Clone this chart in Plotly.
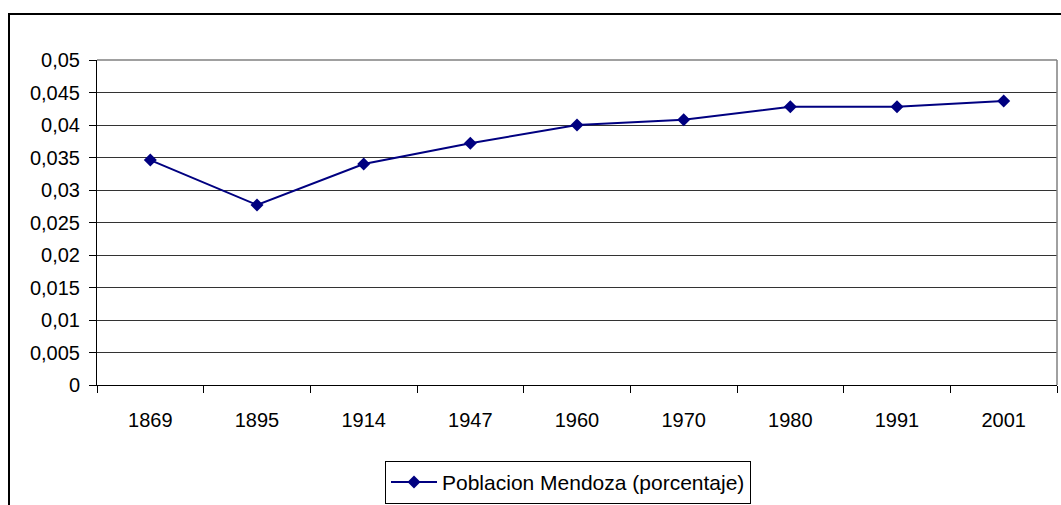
import plotly.graph_objects as go

years = ["1869", "1895", "1914", "1947", "1960", "1970", "1980", "1991", "2001"]
values = [0.0346, 0.0277, 0.0340, 0.0372, 0.0400, 0.0408, 0.0428, 0.0428, 0.0437]
y_ticks = [0, 0.005, 0.01, 0.015, 0.02, 0.025, 0.03, 0.035, 0.04, 0.045, 0.05]
y_tick_labels = ["0", "0,005", "0,01", "0,015", "0,02", "0,025", "0,03", "0,035", "0,04", "0,045", "0,05"]
series_name = "Poblacion Mendoza (porcentaje)"

FONT = "Liberation Sans, Arial, sans-serif"

fig = go.Figure()
fig.add_trace(go.Scatter(
    x=years, y=values, mode="lines+markers", name=series_name,
    line=dict(color="#000080", width=2),
    marker=dict(symbol="diamond", size=10, color="#000080"),
    showlegend=True,
))

fig.update_layout(
    width=1061, height=505,
    margin=dict(l=97, r=4, t=60, b=120, autoexpand=False),
    paper_bgcolor="white", plot_bgcolor="white",
    font=dict(family=FONT, size=20, color="black"),
    showlegend=True,
    legend=dict(
        x=0.3, y=-0.233, xanchor="left", yanchor="top",
        bordercolor="black", borderwidth=1, bgcolor="white",
        font=dict(family=FONT, size=21, color="black"),
        itemwidth=46,
    ),
    xaxis=dict(
        type="category", range=[-0.5, 8.5], tickson="boundaries",
        ticks="outside", ticklen=7, tickcolor="black", tickwidth=1,
        showline=True, linecolor="black", linewidth=1,
        showgrid=False, zeroline=False, fixedrange=True,
        tickfont=dict(family=FONT, size=20, color="black"),
        ticklabelstandoff=17,
    ),
    yaxis=dict(
        range=[0, 0.05], tickvals=y_ticks, ticktext=y_tick_labels,
        ticks="outside", ticklen=7, tickcolor="black", tickwidth=1,
        showline=True, linecolor="black", linewidth=1,
        showgrid=True, gridcolor="#333333", gridwidth=1,
        zeroline=False, fixedrange=True,
        tickfont=dict(family=FONT, size=20, color="black"),
        ticklabelstandoff=5,
    ),
    shapes=[
        dict(type="line", xref="paper", yref="paper", x0=0, x1=1, y0=1, y1=1,
             line=dict(color="#808080", width=1.5)),
        dict(type="line", xref="paper", yref="paper", x0=1, x1=1, y0=0, y1=1,
             line=dict(color="#808080", width=1.5)),
        dict(type="rect", xref="paper", yref="paper",
             x0=(9 - 97) / 960, x1=1.02, y0=(385 - 520) / 325, y1=(385 - 14) / 325,
             line=dict(color="black", width=2), layer="below"),
    ],
)

fig.write_html(
    "out.html",
    config={"displayModeBar": False},
    post_script="document.body.style.margin='0';document.body.style.overflow='hidden';",
)
